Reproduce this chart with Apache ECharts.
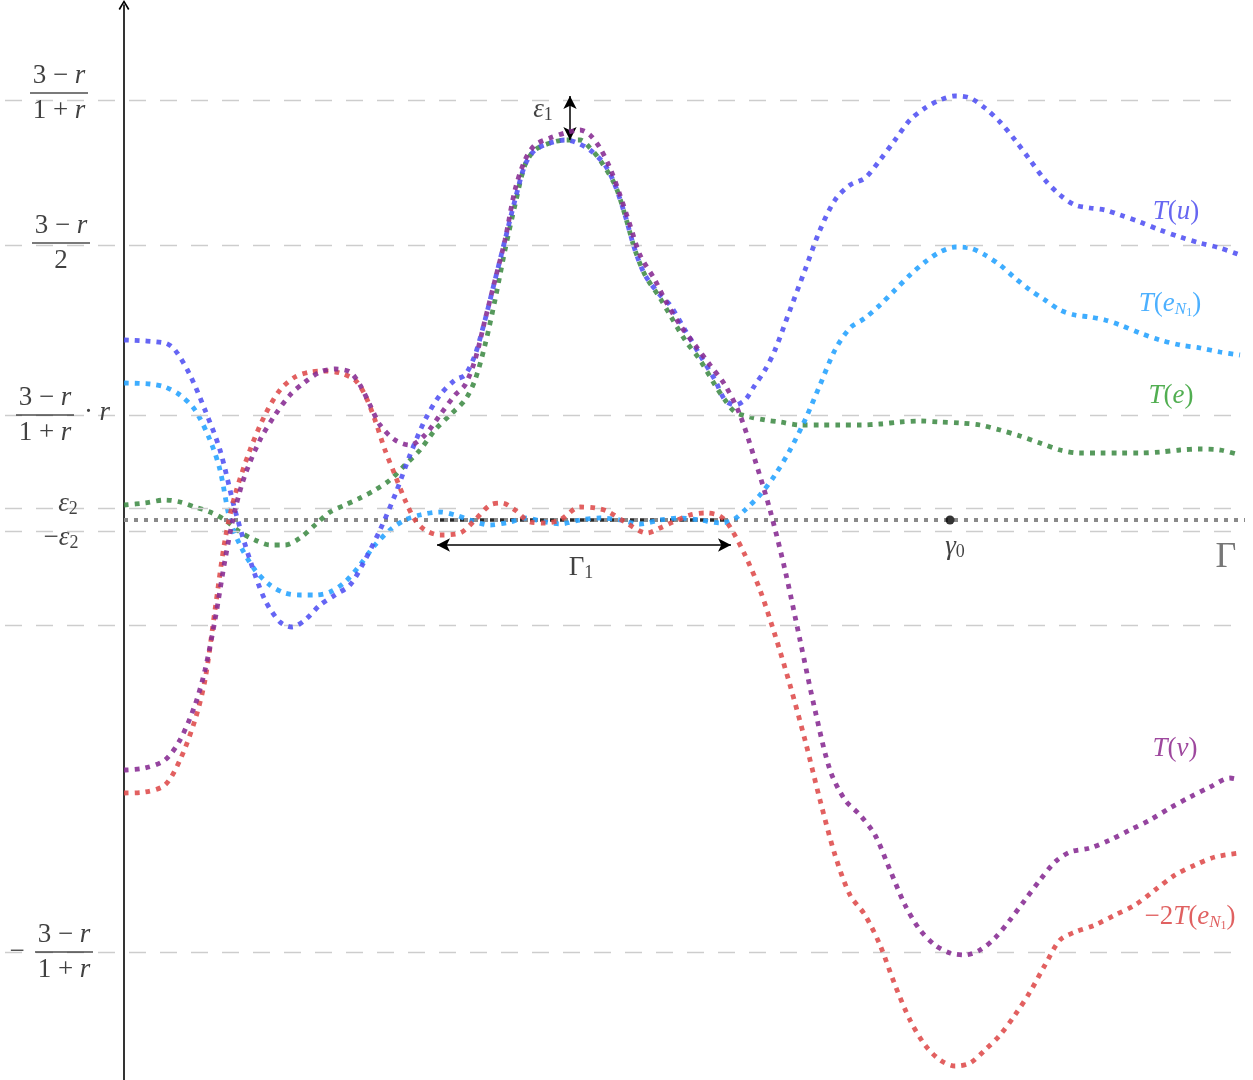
<!DOCTYPE html>
<html>
<head>
<meta charset="utf-8">
<script src="https://cdn.jsdelivr.net/npm/echarts@6/dist/echarts.min.js"></script>
<style>html,body{margin:0;padding:0;background:#fff}#c{width:1253px;height:1080px}</style>
</head>
<body>
<div id="c"></div>
<script>
// ---- data (x along Γ, y value; Γ baseline at y = 0) ----
const refLevels = [420, 275, 105, 12, -11, -105, -432];
const gammaRange = [0, 1121];
const gamma1Range = [316, 606];
const gamma0 = [826, 0];

const curveTu = [[0,180],[41,177],[51,170],[66,145],[81,110],[96,70],[111,10],[126,-40],[141,-80],[156,-102],[168,-107],[181,-100],[196,-85],[211,-75],[226,-65],[241,-40],[256,-10],[271,25],[286,65],[301,100],[316,125],[331,140],[341,145],[351,165],[361,200],[371,240],[381,280],[391,320],[401,355],[411,370],[426,377],[441,380],[451,378],[466,370],[481,355],[491,335],[501,305],[511,270],[521,245],[536,225],[546,215],[561,190],[576,165],[591,140],[601,120],[611,115],[621,120],[631,135],[641,150],[651,170],[666,210],[681,250],[696,290],[711,320],[726,335],[741,342],[756,360],[771,380],[786,400],[801,412],[816,420],[831,424],[846,422],[861,412],[876,398],[891,380],[906,360],[921,340],[936,325],[951,315],[966,312],[981,310],[996,305],[1016,298],[1036,290],[1056,283],[1076,277],[1096,272],[1116,265]];

const curveTeN1 = [[0,137],[26,136],[41,133],[56,125],[71,110],[86,80],[96,50],[106,0],[116,-25],[131,-50],[146,-65],[161,-73],[176,-75],[191,-75],[206,-72],[221,-62],[236,-45],[251,-25],[266,-10],[281,0],[296,5],[316,8],[331,5],[346,0],[366,-5],[386,-2],[401,2],[421,-2],[436,-4],[456,0],[476,2],[496,0],[516,-4],[536,0],[556,2],[576,0],[596,-3],[609,0],[621,10],[636,25],[651,45],[666,70],[681,100],[696,135],[711,170],[726,192],[741,202],[756,215],[771,230],[786,245],[801,258],[816,268],[831,273],[846,272],[861,265],[876,255],[891,242],[906,230],[921,220],[936,210],[951,205],[966,203],[981,200],[996,195],[1016,187],[1036,180],[1056,175],[1076,172],[1096,168],[1116,165]];

const curveTe = [[0,15],[21,17],[41,20],[56,18],[71,13],[86,8],[101,0],[116,-12],[131,-20],[146,-25],[161,-25],[176,-18],[191,-5],[206,8],[221,15],[236,22],[251,30],[266,40],[281,55],[296,70],[311,90],[326,105],[341,120],[351,140],[361,175],[371,220],[381,270],[391,315],[401,355],[411,370],[426,377],[441,380],[456,380],[466,372],[476,360],[491,335],[501,305],[511,270],[521,245],[536,222],[546,205],[561,180],[576,160],[591,135],[601,120],[611,108],[626,103],[641,100],[656,98],[676,95],[696,95],[716,95],[736,95],[756,96],[776,98],[796,99],[816,98],[836,97],[856,95],[876,90],[896,84],[916,77],[936,70],[956,67],[976,67],[996,67],[1016,67],[1036,68],[1056,70],[1076,71],[1096,70],[1116,65]];

const curveTv = [[0,-250],[21,-248],[41,-240],[56,-220],[71,-185],[81,-150],[91,-100],[101,-40],[111,10],[121,45],[136,80],[151,105],[166,125],[181,138],[196,148],[211,151],[226,148],[236,135],[246,115],[256,95],[271,80],[286,75],[301,85],[316,105],[331,125],[341,135],[351,160],[361,200],[371,240],[381,280],[391,330],[401,360],[411,375],[426,382],[441,387],[456,390],[466,385],[476,372],[486,352],[496,325],[506,295],[516,265],[531,240],[541,220],[556,195],[571,175],[586,155],[601,135],[616,105],[631,60],[646,10],[661,-50],[676,-120],[691,-190],[706,-250],[721,-280],[736,-295],[751,-315],[766,-350],[781,-385],[796,-410],[811,-425],[826,-433],[841,-435],[856,-430],[871,-418],[886,-400],[901,-380],[916,-360],[931,-342],[946,-332],[966,-328],[986,-320],[1006,-310],[1026,-300],[1046,-288],[1066,-277],[1086,-267],[1106,-258],[1116,-260]];

const curveM2TeN1 = [[0,-273],[21,-272],[41,-265],[56,-240],[71,-200],[81,-160],[91,-90],[101,-20],[111,25],[126,70],[141,105],[156,130],[171,143],[186,148],[201,149],[216,147],[231,140],[241,125],[251,100],[261,70],[271,45],[281,20],[291,0],[301,-10],[316,-15],[336,-13],[351,0],[366,15],[378,17],[391,10],[406,-2],[421,-3],[436,0],[456,13],[471,12],[483,9],[501,-2],[523,-13],[536,-8],[549,-2],[566,5],[581,7],[596,4],[606,-7],[621,-35],[636,-70],[651,-115],[666,-165],[681,-220],[696,-280],[711,-335],[726,-375],[741,-395],[756,-425],[771,-465],[786,-500],[801,-525],[816,-540],[831,-546],[846,-543],[861,-530],[876,-515],[891,-495],[906,-472],[921,-445],[936,-420],[951,-412],[971,-405],[991,-395],[1011,-385],[1031,-370],[1051,-355],[1071,-345],[1091,-337],[1116,-333]];

const eps1Arrow = [[446, 424], [446, 380]];
const gamma1Arrow = [[313, -25], [607, -25]];

// ---- styling / layout ----
const FRAC = '{n|3 − }{ni|r}\n{b|}\n{n|1 + }{ni|r}';
const annotations = [
  { at: [-65, 427], text: FRAC },
  { at: [-63, 277], text: '{n|3 − }{ni|r}\n{b|}\n{n|2}' },
  { at: [-79, 105], text: FRAC },
  { at: [-27, 107], text: '{n|· }{ni|r}' },
  { at: [-56, 16], text: '{ni|ε}{sub|2}' },
  { at: [-63, -18], text: '{n|−}{ni|ε}{sub|2}' },
  { at: [-107, -432], text: '{n|−}' },
  { at: [-60, -432], text: FRAC },
  { at: [419, 410], text: '{ni|ε}{sub|1}' },
  { at: [457, -48], text: '{n|Γ}{sub|1}' },
  { at: [831, -27], text: '{ni|γ}{sub|0}' },
  { at: [1102, -38], text: '{G|Γ}', color: '#555' },
  { at: [1052, 308], text: '{ni|T}{n|(}{ni|u}{n|)}', color: '#4040ee' },
  { at: [1046, 216], text: '{ni|T}{n|(}{ni|e}{subi|N}{ss|1}{n|)}', color: '#1f9cff' },
  { at: [1047, 124], text: '{ni|T}{n|(}{ni|e}{n|)}', color: '#259a25' },
  { at: [1051, -229], text: '{ni|T}{n|(}{ni|v}{n|)}', color: '#861a86' },
  { at: [1066, -397], text: '{n|−2}{ni|T}{n|(}{ni|e}{subi|N}{ss|1}{n|)}', color: '#d83a3a' }
];

const SERIF = "'Liberation Serif', 'DejaVu Serif', serif";
const rich = {
  n: { fontFamily: SERIF, fontSize: 27, lineHeight: 29 },
  ni: { fontFamily: SERIF, fontSize: 27, lineHeight: 29, fontStyle: 'italic' },
  b: { width: 58, height: 1.3, backgroundColor: '#222', lineHeight: 6 },
  sub: { fontFamily: SERIF, fontSize: 18, lineHeight: 18, verticalAlign: 'bottom' },
  subi: { fontFamily: SERIF, fontSize: 17, lineHeight: 18, verticalAlign: 'bottom', fontStyle: 'italic' },
  ss: { fontFamily: SERIF, fontSize: 12, lineHeight: 9, verticalAlign: 'bottom' },
  G: { fontFamily: SERIF, fontSize: 36, lineHeight: 38, color: '#555' }
};

function dotted(name, data, color, z) {
  return {
    name, type: 'line', data, smooth: 0.3, showSymbol: false, silent: true, z,
    lineStyle: { color, width: 4.8, type: [4.8, 6], opacity: 0.88, cap: 'butt' }
  };
}

const chart = echarts.init(document.getElementById('c'), null, { renderer: 'canvas' });
chart.setOption({
  animation: false,
  backgroundColor: '#fff',
  grid: { left: 5, right: 8, top: 5, bottom: 0 },
  xAxis: {
    type: 'value', min: -119, max: 1121,
    axisLine: { show: false }, axisTick: { show: false }, axisLabel: { show: false }, splitLine: { show: false }
  },
  yAxis: {
    type: 'value', min: -560, max: 515,
    axisLine: {
      show: true, onZero: true,
      lineStyle: { color: '#000', width: 1.6 },
      symbol: ['none', 'path://M0,10 L6,0 L12,10 L10.4,11 L6,3.4 L1.6,11 Z'],
      symbolSize: [14, 10], symbolOffset: [0, 0]
    },
    axisTick: { show: false }, axisLabel: { show: false }, splitLine: { show: false }
  },
  series: [
    {
      name: 'Γ', type: 'line', data: gammaRange.map(x => [x, 0]), showSymbol: false, silent: true, z: 1,
      lineStyle: { color: '#8a8a8a', width: 4, type: [4, 6] },
      markLine: {
        silent: true, symbol: 'none', label: { show: false },
        lineStyle: { color: '#cdcdcd', width: 1.3, type: [17, 14] },
        data: refLevels.map(v => ({ yAxis: v }))
      }
    },
    {
      name: 'Γ1', type: 'line', data: gamma1Range.map(x => [x, 0]), showSymbol: false, silent: true, z: 2,
      lineStyle: { color: '#2a2a2a', width: 3.5, type: [4, 6] },
      markLine: {
        silent: true, symbol: ['arrow', 'arrow'], symbolSize: [10, 13], label: { show: false },
        lineStyle: { color: '#000', width: 1.5, type: 'solid' },
        data: [
          [{ coord: eps1Arrow[0] }, { coord: eps1Arrow[1] }],
          [{ coord: gamma1Arrow[0] }, { coord: gamma1Arrow[1] }]
        ]
      }
    },
    dotted('T(e)', curveTe, '#3f8b45', 3),
    dotted('T(e_N1)', curveTeN1, '#23a2ff', 4),
    dotted('T(u)', curveTu, '#5050f2', 5),
    dotted('-2T(e_N1)', curveM2TeN1, '#de4a4a', 6),
    dotted('T(v)', curveTv, '#862a92', 7),
    {
      name: 'γ0', type: 'scatter', data: [gamma0], symbol: 'circle', symbolSize: 9, silent: true, z: 9,
      itemStyle: { color: '#000' }
    },
    {
      name: 'labels', type: 'scatter', symbolSize: 0, silent: true, z: 10,
      label: { show: true, position: 'inside', align: 'center', verticalAlign: 'middle', color: '#111', rich },
      data: annotations.map(a => ({
        value: a.at,
        label: { formatter: a.text, color: a.color || '#111' }
      }))
    }
  ]
});
</script>
</body>
</html>
